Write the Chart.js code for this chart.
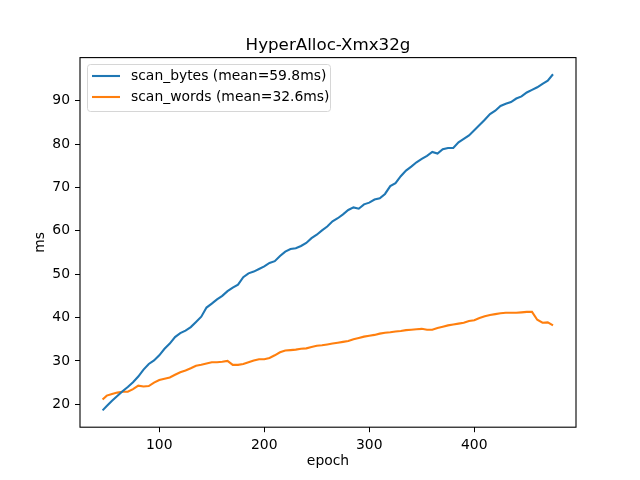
<!DOCTYPE html>
<html>
<head>
<meta charset="utf-8">
<script src="https://cdn.jsdelivr.net/npm/chart.js@4"></script>
<style>
  html, body { margin: 0; padding: 0; background: #fff; }
  canvas { display: block; }
</style>
</head>
<body>
<canvas id="chart" width="640" height="480"></canvas>
<script>
const epochs = [46, 50, 55, 60, 65, 70, 75, 80, 85, 90,
    95, 100, 105, 110, 115, 120, 125, 130, 135, 140,
    145, 150, 155, 160, 165, 170, 175, 180, 185, 190,
    195, 200, 205, 210, 215, 220, 225, 230, 235, 240,
    245, 250, 255, 260, 265, 270, 275, 280, 285, 290,
    295, 300, 305, 310, 315, 320, 325, 330, 335, 340,
    345, 350, 355, 360, 365, 370, 375, 380, 385, 390,
    395, 400, 405, 410, 415, 420, 425, 430, 435, 440,
    445, 450, 455, 460, 465, 470, 475];

const scanBytes = [18.6, 19.6, 20.8, 21.9, 23.0, 24.0, 25.1, 26.4, 28.0, 29.3,
    30.1, 31.3, 32.8, 34.0, 35.5, 36.4, 37.0, 37.8, 39.0, 40.2,
    42.3, 43.2, 44.2, 45.0, 46.1, 46.9, 47.6, 49.3, 50.2, 50.6,
    51.2, 51.8, 52.6, 53.0, 54.2, 55.2, 55.8, 56.0, 56.5, 57.2,
    58.3, 59.1, 60.1, 61.0, 62.2, 62.9, 63.8, 64.8, 65.4, 65.1,
    66.1, 66.5, 67.2, 67.5, 68.5, 70.3, 71.0, 72.6, 73.9, 74.8,
    75.8, 76.6, 77.3, 78.2, 77.8, 78.8, 79.1, 79.1, 80.4, 81.2,
    82.0, 83.2, 84.4, 85.6, 86.9, 87.7, 88.8, 89.3, 89.7, 90.5,
    91.0, 91.9, 92.5, 93.1, 93.9, 94.6, 96.1];

const scanWords = [21.1, 22.0, 22.4, 22.7, 22.9, 22.9, 23.5, 24.3, 24.1, 24.2,
    25.0, 25.6, 25.9, 26.2, 26.8, 27.4, 27.8, 28.3, 28.9, 29.1,
    29.4, 29.7, 29.7, 29.8, 30.0, 29.1, 29.1, 29.3, 29.7, 30.1,
    30.4, 30.4, 30.7, 31.3, 32.0, 32.4, 32.5, 32.6, 32.8, 32.9,
    33.2, 33.5, 33.6, 33.8, 34.0, 34.2, 34.4, 34.6, 35.0, 35.3,
    35.6, 35.8, 36.0, 36.3, 36.5, 36.6, 36.8, 36.9, 37.1, 37.2,
    37.3, 37.4, 37.2, 37.2, 37.6, 37.9, 38.2, 38.4, 38.6, 38.8,
    39.2, 39.4, 39.9, 40.3, 40.6, 40.8, 41.0, 41.1, 41.1, 41.1,
    41.2, 41.3, 41.3, 39.5, 38.8, 38.9, 38.2];

const seriesLabels = ['scan_bytes (mean=59.8ms)', 'scan_words (mean=32.6ms)'];
const chartTitle = 'HyperAlloc-Xmx32g';
const xTicks = [100, 200, 300, 400];
const yTicks = [20, 30, 40, 50, 60, 70, 80, 90];

const FONT = 'DejaVu Sans';

function toPoints(vals) {
    return vals.map((v, i) => ({ x: epochs[i], y: v }));
}

// frame on all four sides, title over the axes and the legend box, matplotlib style
const framePlugin = {
    id: 'frame',
    afterDraw(chart) {
        const { ctx, chartArea: a } = chart;
        ctx.save();
        ctx.strokeStyle = '#000';
        ctx.lineWidth = 1.1;
        ctx.strokeRect(a.left, a.top, a.right - a.left, a.bottom - a.top);

        ctx.fillStyle = '#000';
        ctx.font = '16.7px "' + FONT + '"';
        ctx.textAlign = 'center';
        ctx.textBaseline = 'alphabetic';
        ctx.fillText(chartTitle, (a.left + a.right) / 2, a.top - 8);

        // legend
        const lx = 87.5, ly = 64.5, lw = 243, lh = 47, r = 3;
        ctx.beginPath();
        ctx.moveTo(lx + r, ly);
        ctx.arcTo(lx + lw, ly, lx + lw, ly + lh, r);
        ctx.arcTo(lx + lw, ly + lh, lx, ly + lh, r);
        ctx.arcTo(lx, ly + lh, lx, ly, r);
        ctx.arcTo(lx, ly, lx + lw, ly, r);
        ctx.closePath();
        ctx.fillStyle = 'rgba(255,255,255,0.8)';
        ctx.fill();
        ctx.strokeStyle = '#d6d6d6';
        ctx.lineWidth = 1;
        ctx.stroke();

        ctx.font = '13.9px "' + FONT + '"';
        ctx.textBaseline = 'middle';
        ctx.textAlign = 'left';
        chart.data.datasets.forEach((ds, i) => {
            const y = 76 + i * 21;
            ctx.beginPath();
            ctx.strokeStyle = ds.borderColor;
            ctx.lineWidth = 2.1;
            ctx.moveTo(92, y);
            ctx.lineTo(120, y);
            ctx.stroke();
            ctx.fillStyle = '#000';
            ctx.fillText(ds.label, 131, y);
        });
        ctx.restore();
    }
};

const ctx = document.getElementById('chart').getContext('2d');
const chart = new Chart(ctx, {
    type: 'line',
    data: {
        datasets: [{
            label: seriesLabels[0],
            data: toPoints(scanBytes),
            borderColor: '#1f77b4',
            backgroundColor: '#1f77b4',
            borderWidth: 2.1,
            pointRadius: 0,
            tension: 0
        }, {
            label: seriesLabels[1],
            data: toPoints(scanWords),
            borderColor: '#ff7f0e',
            backgroundColor: '#ff7f0e',
            borderWidth: 2.1,
            pointRadius: 0,
            tension: 0
        }]
    },
    options: {
        responsive: false,
        animation: false,
        layout: { padding: { left: 0, right: 64, top: 57.6, bottom: 0 } },
        scales: {
            x: {
                type: 'linear',
                min: 24.5,
                max: 496.9,
                afterBuildTicks: (s) => { s.ticks = xTicks.map(v => ({ value: v })); },
                afterFit: (s) => { s.height = 52.8; },
                grid: { drawOnChartArea: false, drawTicks: true, tickLength: 5, color: '#000' },
                border: { display: false },
                ticks: {
                    color: '#000',
                    padding: 5,
                    maxRotation: 0,
                    font: { size: 13.9, family: FONT }
                },
                title: {
                    display: true,
                    text: 'epoch',
                    color: '#000',
                    padding: { top: 0, bottom: 10 },
                    font: { size: 13.9, family: FONT }
                }
            },
            y: {
                min: 14.72,
                max: 99.94,
                afterBuildTicks: (s) => { s.ticks = yTicks.map(v => ({ value: v })); },
                afterFit: (s) => { s.width = 80; },
                grid: { drawOnChartArea: false, drawTicks: true, tickLength: 5, color: '#000' },
                border: { display: false },
                ticks: {
                    color: '#000',
                    padding: 5,
                    font: { size: 13.9, family: FONT }
                },
                title: {
                    display: true,
                    text: 'ms',
                    color: '#000',
                    padding: { top: 32, bottom: 0 },
                    font: { size: 13.9, family: FONT }
                }
            }
        },
        plugins: {
            legend: { display: false },
            tooltip: { enabled: false },
            title: { display: false }
        }
    },
    plugins: [framePlugin]
});
</script>
</body>
</html>
